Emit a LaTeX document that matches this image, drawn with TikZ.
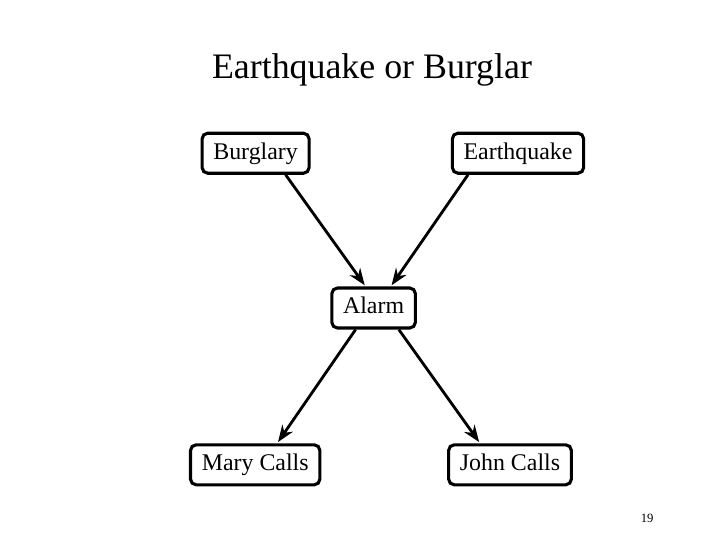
\documentclass[tikz,border=0pt]{standalone}
\usepackage{fontspec}
\setmainfont{Liberation Serif}
\usetikzlibrary{arrows.meta,calc}

\begin{document}
\begin{tikzpicture}[
  >=Stealth,
  varnode/.style={draw=black, line width=2.2pt, rounded corners=4pt, fill=white,
    minimum height=1cm, inner xsep=8pt, text height=2.4ex, text depth=0.6ex,
    font=\fontsize{17}{19}\selectfont},
  causal/.style={->, draw=black, line width=2pt, shorten >=1pt}
]
  \useasboundingbox (0,0) rectangle (18,-13.5);
  \node[font=\fontsize{25.5}{30}\selectfont] (title) at (9.3,-1.75) {Earthquake or Burglar};
  \node[varnode] (burg) at (6.39,-3.83) {Burglary};
  \node[varnode] (quake) at (12.95,-3.83) {Earthquake};
  \node[varnode] (alarm) at (9.34,-7.7) {Alarm};
  \node[varnode] (mary) at (6.38,-11.62) {Mary Calls};
  \node[varnode] (john) at (12.75,-11.62) {John Calls};
  \draw[causal] ($(burg.south)+(0.75,0)$) -- ($(alarm.north)+(-0.2,0)$);
  \draw[causal] ($(quake.south)+(-1.25,0)$) -- ($(alarm.north)+(0.43,0)$);
  \draw[causal] ($(alarm.south)+(-0.45,0)$) -- ($(mary.north)+(0.55,0)$);
  \draw[causal] ($(alarm.south)+(0.63,0)$) -- ($(john.north)+(-0.75,0)$);
  \node[font=\fontsize{9}{11}\selectfont] (pagenum) at (16.18,-12.95) {19};
\end{tikzpicture}
\end{document}
